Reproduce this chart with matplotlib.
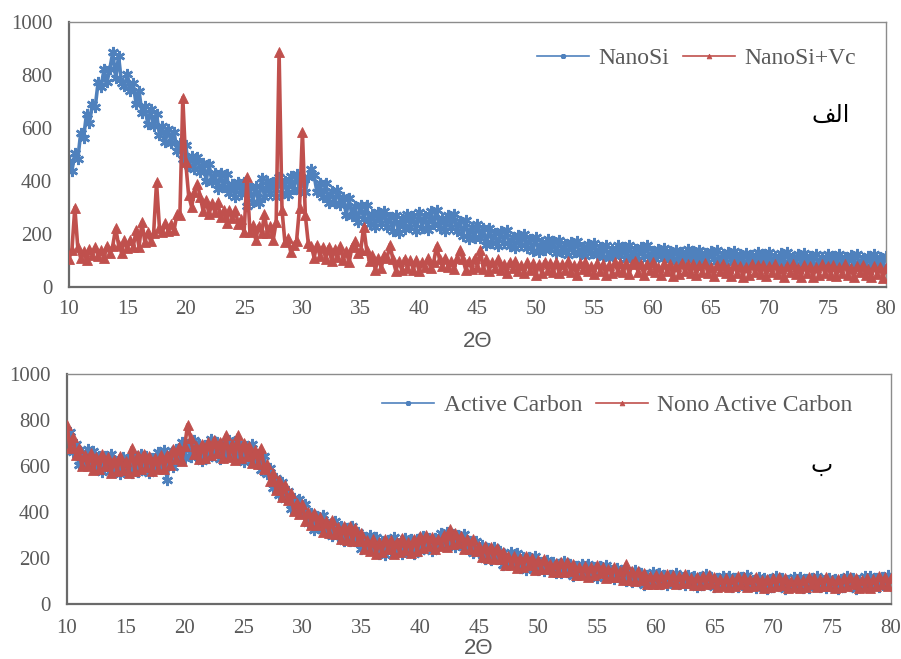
import numpy as np
import matplotlib
matplotlib.use("Agg")
import matplotlib.pyplot as plt

# 2-theta scan positions (degrees), 0.25 deg step
two_theta = np.linspace(10, 80, 281)

# ---- panel (a): NanoSi and NanoSi+Vc ----
nanosi = [
    474, 438, 505, 482, 580, 563, 653, 618,
    691, 681, 775, 755, 821, 772, 824, 885,
    790, 870, 770, 760, 802, 741, 768, 689,
    739, 658, 683, 614, 670, 609, 653, 575,
    606, 548, 597, 545, 586, 514, 544, 483,
    534, 455, 495, 445, 492, 435, 468, 401,
    464, 395, 430, 369, 430, 376, 427, 353,
    389, 340, 397, 351, 398, 305, 375, 322,
    381, 317, 410, 339, 400, 354, 397, 341,
    414, 355, 399, 348, 418, 370, 428, 361,
    403, 357, 416, 445, 421, 357, 394, 338,
    391, 317, 361, 317, 367, 309, 340, 272,
    334, 268, 305, 247, 310, 257, 309, 237,
    274, 226, 284, 240, 288, 227, 266, 213,
    272, 205, 256, 218, 275, 228, 269, 212,
    284, 224, 268, 216, 285, 236, 292, 222,
    261, 213, 271, 226, 274, 211, 249, 194,
    251, 180, 226, 184, 237, 185, 221, 159,
    222, 167, 202, 154, 212, 167, 215, 154,
    188, 146, 197, 159, 201, 148, 183, 136,
    187, 133, 170, 141, 181, 143, 172, 127,
    177, 131, 161, 121, 170, 133, 174, 123,
    151, 117, 161, 129, 165, 121, 151, 113,
    157, 108, 145, 117, 158, 121, 150, 106,
    157, 112, 142, 103, 152, 116, 157, 107,
    136, 107, 143, 118, 148, 112, 137, 105,
    141, 101, 131, 108, 142, 112, 135, 99,
    141, 104, 128, 96, 136, 106, 140, 99,
    123, 95, 131, 106, 136, 100, 125, 93,
    129, 89, 119, 96, 131, 100, 124, 88,
    131, 93, 118, 86, 127, 96, 131, 90,
    115, 86, 123, 98, 129, 92, 118, 86,
    123, 82, 113, 90, 125, 95, 118, 82,
    125, 88, 112, 80, 121, 90, 125, 84,
    109, 80, 117, 92, 123, 86, 112, 80,
    117,
]

nanosi_vc = [
    106, 140, 300, 150, 110, 135, 101, 145,
    122, 151, 116, 139, 110, 155, 127, 156,
    222, 158, 130, 176, 146, 179, 150, 215,
    150, 245, 170, 207, 172, 202, 395, 223,
    207, 241, 211, 238, 214, 275, 270, 715,
    470, 346, 303, 358, 390, 339, 286, 329,
    274, 316, 282, 319, 263, 291, 242, 292,
    259, 289, 238, 255, 206, 415, 207, 233,
    178, 231, 203, 275, 204, 229, 179, 245,
    885, 290, 169, 184, 132, 160, 175, 300,
    585, 270, 165, 156, 111, 160, 117, 151,
    107, 152, 98, 142, 112, 153, 102, 135,
    93, 152, 172, 128, 140, 228, 140, 97,
    121, 65, 111, 71, 120, 110, 160, 104,
    61, 98, 66, 107, 73, 101, 66, 102,
    60, 96, 74, 108, 70, 96, 155, 104,
    81, 110, 75, 97, 67, 110, 140, 105,
    63, 100, 68, 110, 76, 140, 69, 104,
    62, 96, 72, 105, 64, 88, 53, 95,
    71, 99, 62, 83, 51, 94, 63, 89,
    47, 85, 54, 96, 63, 91, 57, 93,
    52, 87, 64, 97, 57, 82, 47, 90,
    67, 95, 59, 80, 49, 92, 62, 88,
    46, 84, 53, 95, 62, 90, 56, 92,
    50, 85, 100, 58, 88, 47, 88, 65,
    93, 57, 77, 46, 89, 59, 85, 43,
    81, 50, 92, 59, 86, 52, 88, 47,
    82, 58, 91, 51, 76, 41, 84, 60,
    88, 52, 73, 42, 85, 54, 80, 39,
    77, 46, 88, 55, 82, 48, 84, 43,
    78, 55, 88, 48, 73, 38, 81, 58,
    86, 49, 70, 39, 82, 52, 78, 37,
    75, 44, 86, 53, 81, 47, 83, 41,
    76, 53, 86, 46, 71, 36, 79, 56,
    83, 47, 68, 37, 80, 50, 76, 35,
    73,
]

# ---- panel (b): Active Carbon and Nono Active Carbon ----
active_carbon = [
    695, 749, 662, 695, 604, 660, 609, 672,
    614, 667, 585, 643, 574, 644, 588, 653,
    575, 620, 565, 641, 580, 636, 568, 635,
    575, 654, 588, 643, 569, 635, 592, 661,
    609, 668, 540, 657, 594, 674, 629, 703,
    635, 696, 641, 712, 645, 696, 623, 691,
    635, 716, 650, 704, 629, 693, 646, 711,
    654, 709, 629, 688, 619, 689, 633, 696,
    615, 651, 583, 645, 565, 593, 505, 546,
    473, 530, 457, 493, 413, 459, 405, 456,
    395, 436, 351, 395, 322, 383, 330, 386,
    313, 350, 294, 359, 297, 341, 272, 329,
    273, 339, 272, 314, 238, 291, 243, 298,
    243, 293, 219, 274, 212, 279, 231, 292,
    223, 266, 216, 287, 232, 282, 219, 281,
    230, 297, 247, 289, 232, 285, 252, 308,
    267, 315, 256, 303, 248, 301, 256, 304,
    242, 272, 222, 276, 220, 257, 196, 243,
    193, 250, 194, 232, 169, 215, 175, 225,
    177, 220, 156, 203, 148, 203, 160, 210,
    149, 181, 143, 192, 148, 182, 133, 176,
    135, 186, 140, 174, 122, 164, 132, 175,
    137, 175, 121, 161, 115, 164, 127, 170,
    118, 147, 109, 158, 115, 150, 101, 140,
    97, 147, 100, 135, 83, 125, 93, 137,
    99, 135, 87, 124, 83, 128, 94, 135,
    88, 116, 81, 127, 89, 121, 76, 117,
    81, 129, 87, 119, 72, 111, 82, 123,
    89, 123, 76, 113, 72, 117, 84, 124,
    78, 106, 71, 117, 80, 111, 67, 107,
    72, 120, 79, 111, 65, 104, 76, 117,
    83, 118, 71, 108, 68, 113, 80, 121,
    75, 103, 69, 115, 78, 110, 66, 108,
    73, 121, 80, 113, 67, 106, 78, 120,
    86, 121, 74, 112, 72, 117, 84, 126,
    80,
]

nono_active_carbon = [
    780, 680, 727, 648, 679, 602, 650, 599,
    655, 584, 641, 589, 653, 599, 641, 571,
    628, 577, 644, 583, 622, 570, 680, 580,
    646, 585, 653, 596, 644, 577, 633, 588,
    650, 585, 649, 603, 673, 629, 682, 621,
    688, 780, 720, 654, 687, 630, 694, 636,
    706, 647, 715, 657, 704, 635, 735, 638,
    695, 626, 735, 634, 698, 644, 686, 614,
    668, 608, 680, 587, 607, 534, 570, 496,
    537, 467, 516, 451, 482, 406, 441, 390,
    433, 360, 402, 345, 394, 343, 378, 312,
    361, 310, 366, 306, 335, 282, 337, 279,
    337, 276, 331, 272, 307, 238, 279, 232,
    281, 217, 270, 224, 284, 239, 279, 218,
    271, 226, 288, 234, 270, 223, 284, 231,
    294, 243, 298, 253, 291, 240, 284, 251,
    300, 250, 325, 260, 310, 266, 297, 240,
    283, 238, 284, 230, 253, 205, 251, 200,
    248, 196, 245, 196, 228, 170, 207, 168,
    210, 155, 200, 160, 210, 168, 201, 146,
    190, 152, 196, 153, 176, 138, 180, 139,
    182, 140, 184, 143, 173, 125, 159, 127,
    165, 119, 159, 124, 168, 134, 162, 115,
    153, 118, 162, 119, 143, 106, 175, 103,
    144, 101, 144, 104, 134, 86, 120, 89,
    127, 85, 120, 91, 131, 100, 126, 86,
    120, 90, 129, 92, 114, 81, 119, 84,
    123, 87, 126, 91, 118, 76, 107, 79,
    114, 73, 109, 80, 120, 89, 116, 75,
    110, 80, 119, 82, 105, 71, 110, 74,
    114, 78, 118, 83, 111, 69, 101, 73,
    108, 68, 104, 75, 116, 85, 112, 72,
    107, 77, 117, 80, 103, 70, 109, 75,
    115, 79, 119, 85, 113, 71, 103, 76,
    111, 71, 107, 79, 120, 89, 116, 77,
    112,
]

x_ticks = list(range(10, 81, 5))
y_ticks = list(range(0, 1001, 200))
x_label = "2\u0398"
labels_top = ["NanoSi", "NanoSi+Vc"]
labels_bottom = ["Active Carbon", "Nono Active Carbon"]
panel_a = "\uFED2\uFEDF\u0627"   # "الف" in visual (presentation-form) order
panel_b = "\uFE8F"              # "ب"

BLUE = "#4F81BD"
RED = "#C0504D"
GREY = "#595959"

plt.rcParams["font.family"] = ["Liberation Serif", "DejaVu Serif"]

fig = plt.figure(figsize=(9.01, 6.59), dpi=100)
ax1 = fig.add_axes([69 / 901, 1 - 287 / 659, (886 - 69) / 901, (287 - 22) / 659])
ax2 = fig.add_axes([67 / 901, 1 - 604 / 659, (891 - 67) / 901, (604 - 374) / 659])

star = (6, 2, 0)


def style(ax, xpad, lpad):
    ax.set_xlim(10, 80)
    ax.set_ylim(0, 1000)
    ax.set_xticks(x_ticks)
    ax.set_yticks(y_ticks)
    ax.tick_params(axis="both", length=0, labelsize=15, labelcolor=GREY)
    ax.tick_params(axis="y", pad=12)
    ax.tick_params(axis="x", pad=xpad)
    for s in ["top", "right"]:
        ax.spines[s].set_color("#8c8c8c")
        ax.spines[s].set_linewidth(1.0)
    for s in ["left", "bottom"]:
        ax.spines[s].set_color("#6a6a6a")
        ax.spines[s].set_linewidth(1.6)
    ax.set_xlabel(x_label, fontsize=16, color=GREY, labelpad=lpad,
                  family=["Liberation Sans", "DejaVu Sans"])


def draw(ax, yb, yr, lb, lr):
    ax.plot(two_theta, yb, color=BLUE, lw=2.6, marker=star, ms=8, mew=1.8,
            label=lb, zorder=2)
    ax.plot(two_theta, yr, color=RED, lw=2.6, marker="^", ms=7.5, mew=0.6,
            label=lr, zorder=3)


draw(ax1, nanosi, nanosi_vc, labels_top[0], labels_top[1])
style(ax1, 9, 9)
draw(ax2, active_carbon, nono_active_carbon, labels_bottom[0], labels_bottom[1])
style(ax2, 11, 0)

for ax, anchor in [(ax1, (0.975, 0.864)), (ax2, (0.965, 0.865))]:
    leg = ax.legend(loc="center right", bbox_to_anchor=anchor, ncol=2, frameon=False,
                    fontsize=17, handlelength=2.2, columnspacing=0.6, handletextpad=0.4,
                    markerscale=0.45, borderaxespad=0)
    for line in leg.get_lines():
        line.set_linewidth(1.2)
    for t in leg.get_texts():
        t.set_color(GREY)

ax1.text(0.932, 0.65, panel_a, transform=ax1.transAxes, ha="center", va="center",
         fontsize=17, color="black", family=["DejaVu Sans"])
ax2.text(0.916, 0.604, panel_b, transform=ax2.transAxes, ha="center", va="center",
         fontsize=17, color="black", family=["DejaVu Sans"])

fig.savefig("out.png", dpi=100)
